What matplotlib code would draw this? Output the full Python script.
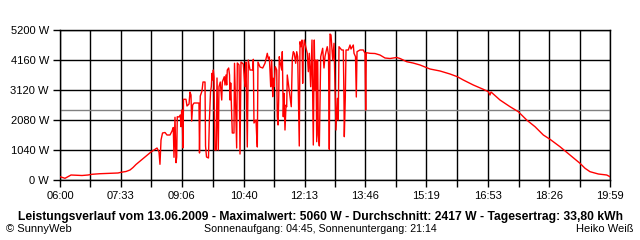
import matplotlib
matplotlib.use("Agg")
import matplotlib.pyplot as plt

# power readings, 13.06.2009 (minutes after midnight, watts)
minutes = [
    360.0, 367.6, 376.8, 393.6, 402.7, 408.8, 421.0, 448.5, 453.1, 460.7,
    466.8, 471.4, 475.9, 480.5, 485.1, 489.7, 494.2, 498.8, 503.4, 508.0,
    511.0, 512.5, 514.1, 516.4, 520.2, 523.2, 527.8, 530.9, 532.8, 533.9,
    535.4, 537.0, 538.0, 538.9, 541.5, 543.5, 544.6, 545.6, 546.6, 547.6,
    548.4, 552.2, 553.7, 556.8, 558.3, 559.8, 560.9, 562.4, 564.4, 572.0,
    572.8, 574.0, 576.6, 578.1, 581.2, 582.0, 583.5, 586.5, 587.8, 589.6,
    590.8, 591.9, 592.9, 593.9, 594.9, 596.4, 598.4, 599.5, 601.5, 602.5,
    604.5, 606.7, 607.6, 610.6, 611.7, 613.2, 614.3, 615.2, 617.3, 618.6,
    619.3, 620.4, 622.8, 625.4, 626.2, 629.5, 630.5, 633.1, 634.6, 636.1,
    639.6, 642.2, 643.7, 645.7, 647.2, 649.8, 654.0, 654.9, 655.9, 659.0,
    660.1, 661.0, 662.0, 665.1, 669.2, 672.7, 676.2, 677.8, 679.3, 680.3,
    681.4, 682.9, 684.5, 685.4, 686.4, 688.4, 690.6, 691.5, 692.6, 693.6,
    694.5, 695.6, 698.2, 699.1, 700.6, 701.7, 703.2, 704.8, 705.8, 706.7,
    712.8, 714.4, 715.9, 717.4, 719.5, 721.1, 722.6, 725.0, 726.1, 727.6,
    729.2, 730.2, 731.1, 732.7, 734.8, 737.2, 738.8, 740.3, 742.4, 744.4,
    746.4, 747.9, 749.0, 750.5, 751.6, 753.1, 754.0, 755.6, 757.7, 760.7,
    762.7, 764.2, 765.8, 767.7, 769.6, 770.8, 771.9, 773.4, 776.0, 778.0,
    779.5, 781.0, 783.0, 784.5, 785.6, 789.7, 792.2, 793.2, 793.7, 795.2,
    796.3, 799.8, 802.4, 803.9, 807.4, 808.5, 810.8, 812.0, 813.1, 817.6,
    822.7, 825.3, 826.3, 827.2, 832.9, 840.5, 848.1, 855.8, 863.4, 873.6,
    878.7, 888.9, 898.5, 909.2, 924.4, 939.7, 954.9, 966.1, 975.2, 990.5,
    1005.7, 1013.4, 1015.9, 1017.5, 1031.2, 1046.5, 1059.1, 1071.9, 1084.6, 1097.3,
    1107.5, 1122.7, 1138.0, 1153.2, 1160.9, 1168.5, 1181.2, 1194.0, 1199.0,
]
watts = [
    114, 59, 173, 156, 173, 198, 218, 243, 267, 295,
    347, 433, 537, 624, 711, 797, 884, 971, 1040, 1109,
    971, 544, 1387, 1629, 1647, 1560, 1560, 1699, 1820, 787,
    2174, 600, 797, 2194, 2184, 2253, 1848, 2427, 2045, 1109,
    2798, 2798, 2565, 2635, 3051, 2947, 2045, 2600, 2669, 2669,
    936, 2912, 3085, 3397, 3397, 1179, 797, 763, 2011, 3051,
    3234, 3699, 3467, 3813, 3571, 1040, 1040, 3536, 1040, 3234,
    3397, 2773, 3397, 3581, 3293, 3640, 3293, 3813, 3883, 3640,
    2773, 3363, 1629, 1629, 4046, 1109, 4056, 3987, 901, 4091,
    4021, 3234, 4091, 1144, 4160, 3813, 3813, 4184, 1976, 2080,
    1491, 1144, 4091, 3917, 3883, 4046, 4392, 4195, 4264, 3813,
    3234, 4160, 2888, 3526, 3234, 3928, 3813, 2194, 1907, 2773,
    4274, 4101, 3813, 4448, 2194, 3006, 1733, 2600, 2541, 3640,
    2541, 4219, 4448, 4392, 4046, 4448, 4274, 1179, 4794, 4621,
    4853, 3352, 4448, 4853, 4621, 4392, 3754, 4392, 3234, 4853,
    1213, 4853, 3120, 4160, 1328, 4160, 1560, 1179, 4274, 4566,
    3883, 4274, 4448, 4621, 4333, 1064, 5060, 5027, 4160, 4739,
    3234, 1733, 2832, 2080, 4621, 4507, 4507, 2773, 1501, 2843,
    4507, 4507, 4680, 4541, 4680, 4392, 4274, 2877, 4448, 4507,
    4507, 4392, 2427, 4413, 4392, 4385, 4333, 4229, 4212, 4247,
    4212, 4101, 4056, 3987, 3848, 3779, 3675, 3581, 3467, 3293,
    3144, 3061, 2947, 3051, 2773, 2541, 2368, 2080, 1848, 1560,
    1411, 1154, 867, 579, 406, 288, 208, 173, 114,
]

avg_watts = 2417
y_ticks = [0, 1040, 2080, 3120, 4160, 5200]
x_labels = ["06:00", "07:33", "09:06", "10:40", "12:13", "13:46",
            "15:19", "16:53", "18:26", "19:59"]

title = ("Leistungsverlauf vom 13.06.2009 - Maximalwert: 5060 W - "
         "Durchschnitt: 2417 W - Tagesertrag: 33,80 kWh")

plt.rcParams['font.family'] = ['Liberation Sans', 'DejaVu Sans']

fig = plt.figure(figsize=(6.4, 2.4), dpi=100)
ax = fig.add_axes([60 / 640, 1 - 180 / 240, 550 / 640, 150 / 240])

# label positions, plus one unlabeled gridline between each pair
label_pos = [int(s[:2]) * 60 + int(s[3:]) for s in x_labels]
x_ticks = []
x_ticklabels = []
for i, p in enumerate(label_pos):
    x_ticks.append(p)
    x_ticklabels.append(x_labels[i])
    if i < len(label_pos) - 1:
        x_ticks.append((p + label_pos[i + 1]) / 2)
        x_ticklabels.append("")

ax.grid(True, color='black', linewidth=1.0)
ax.set_axisbelow(True)
ax.axhline(avg_watts, color='#808080', linewidth=1.0, zorder=2)
ax.plot(minutes, watts, color='#ff0000', linewidth=1.0, zorder=3)

ax.set_xlim(360, 1199)
ax.set_ylim(0, 5200)
ax.set_xticks(x_ticks)
ax.set_xticklabels(x_ticklabels)
ax.set_yticks(y_ticks)
ax.set_yticklabels([f"{v} W" for v in y_ticks])
ax.tick_params(axis='both', length=5, width=1.0, color='black',
               labelsize=8, direction='out')
ax.tick_params(axis='x', pad=3)
ax.tick_params(axis='y', pad=3)
for s in ax.spines.values():
    s.set_color('black')
    s.set_linewidth(1.0)

fig.text(320 / 640, 1 - 217 / 240, title, ha='center', va='center',
         fontsize=8.7, fontweight='bold')
fig.text(6 / 640, 1 - 229 / 240, "© SunnyWeb", ha='left', va='center',
         fontsize=8)
fig.text(320 / 640, 1 - 229 / 240,
         "Sonnenaufgang: 04:45, Sonnenuntergang: 21:14",
         ha='center', va='center', fontsize=7.7)
fig.text(634 / 640, 1 - 229 / 240, "Heiko Weiß", ha='right', va='center',
         fontsize=8)

fig.savefig("out.png", dpi=100, facecolor='white')
